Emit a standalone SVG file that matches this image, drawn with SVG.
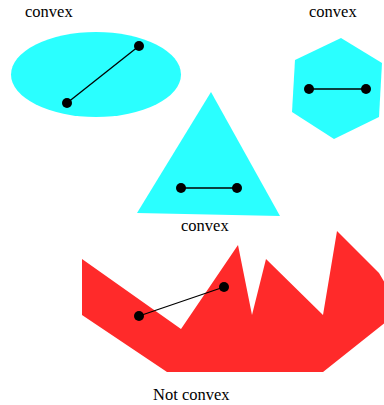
<svg xmlns="http://www.w3.org/2000/svg" width="384" height="405" viewBox="0 0 384 405">
<style>
.cy{fill:#2affff;stroke:none}
.rd{fill:#ff2a2a;stroke:none}
.ln{stroke:#000;stroke-width:1.3;fill:none}
.dot{fill:#000}
text{font-family:"Liberation Serif","Times New Roman",serif;font-size:16.5px;fill:#000}
</style>
<rect width="384" height="405" fill="#fff"/>
<g id="ellipse">
<ellipse class="cy" cx="96" cy="74.5" rx="85" ry="42.5"/>
<text x="25" y="17">convex</text>
</g>
<g id="hexagon">
<polygon class="cy" points="341,38 382,63 379,117 334,139 292,112 295,60"/>
<text x="309" y="17">convex</text>
</g>
<g id="triangle">
<polygon class="cy" points="211,92 137,213 280,216"/>
<text x="181" y="231">convex</text>
</g>
<g id="nonconvex">
<polygon class="rd" points="82,259 181,329 238,245 252,315 266,259 323,315 337,231 379,273 386,285 386,322 323,372 167,372 82,315"/>
<text x="153" y="400">Not convex</text>
</g>
<g id="connectors">
<line class="ln" x1="67" y1="103" x2="139" y2="46"/>
<line class="ln" x1="309" y1="89" x2="366" y2="89"/>
<line class="ln" x1="181" y1="188" x2="237" y2="188"/>
<line class="ln" x1="139" y1="316" x2="224" y2="287"/>
<circle class="dot" cx="67" cy="103" r="5"/>
<circle class="dot" cx="139" cy="46" r="5"/>
<circle class="dot" cx="309" cy="89" r="5"/>
<circle class="dot" cx="366" cy="89" r="5"/>
<circle class="dot" cx="181" cy="188" r="5"/>
<circle class="dot" cx="237" cy="188" r="5"/>
<circle class="dot" cx="139" cy="316" r="5"/>
<circle class="dot" cx="224" cy="287" r="5"/>
</g>
</svg>
